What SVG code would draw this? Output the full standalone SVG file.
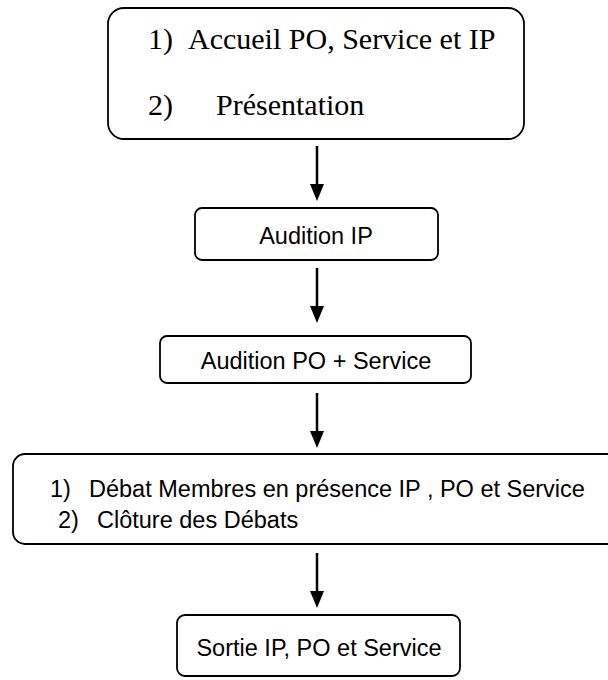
<svg xmlns="http://www.w3.org/2000/svg" width="608" height="680" viewBox="0 0 608 680">
<style>
.box{fill:#fff;stroke:#000;stroke-width:1.8}
.serif{font-family:"Liberation Serif","Times New Roman",serif;font-size:30px;fill:#000}
.sans{font-family:"Liberation Sans",Arial,sans-serif;font-size:23.5px;fill:#000}
.line{stroke:#000;stroke-width:2.5;fill:none}
.head{fill:#000}
</style>
<rect width="608" height="680" fill="#fff"/>
<g id="connectors">
<line class="line" x1="317" y1="146" x2="317" y2="186"/><polygon class="head" points="310,184 324,184 317,201"/>
<line class="line" x1="317" y1="268" x2="317" y2="308"/><polygon class="head" points="310,306 324,306 317,323"/>
<line class="line" x1="317" y1="393" x2="317" y2="433"/><polygon class="head" points="310,431 324,431 317,448"/>
<line class="line" x1="317" y1="553" x2="317" y2="593"/><polygon class="head" points="310,591 324,591 317,608"/>
</g>
<g id="n1">
<rect class="box" x="108" y="8" width="416" height="131" rx="16"/>
<text class="serif" x="148" y="49">1)</text>
<text class="serif" x="188" y="49">Accueil PO, Service et IP</text>
<text class="serif" x="148" y="115">2)</text>
<text class="serif" x="216" y="115">Présentation</text>
</g>
<g id="n2">
<rect class="box" x="195" y="208" width="243" height="52" rx="7"/>
<text class="sans" x="316" y="244" text-anchor="middle">Audition IP</text>
</g>
<g id="n3">
<rect class="box" x="160" y="336" width="311" height="47" rx="7"/>
<text class="sans" x="316" y="369" text-anchor="middle">Audition PO + Service</text>
</g>
<g id="n4">
<rect class="box" x="13" y="454" width="610" height="90" rx="12"/>
<text class="sans" x="50" y="497">1)</text>
<text class="sans" x="89" y="497">Débat Membres en présence IP , PO et Service</text>
<text class="sans" x="58" y="528">2)</text>
<text class="sans" x="97" y="528">Clôture des Débats</text>
</g>
<g id="n5">
<rect class="box" x="177" y="615" width="283" height="61" rx="8"/>
<text class="sans" x="319" y="656" text-anchor="middle">Sortie IP, PO et Service</text>
</g>
</svg>
